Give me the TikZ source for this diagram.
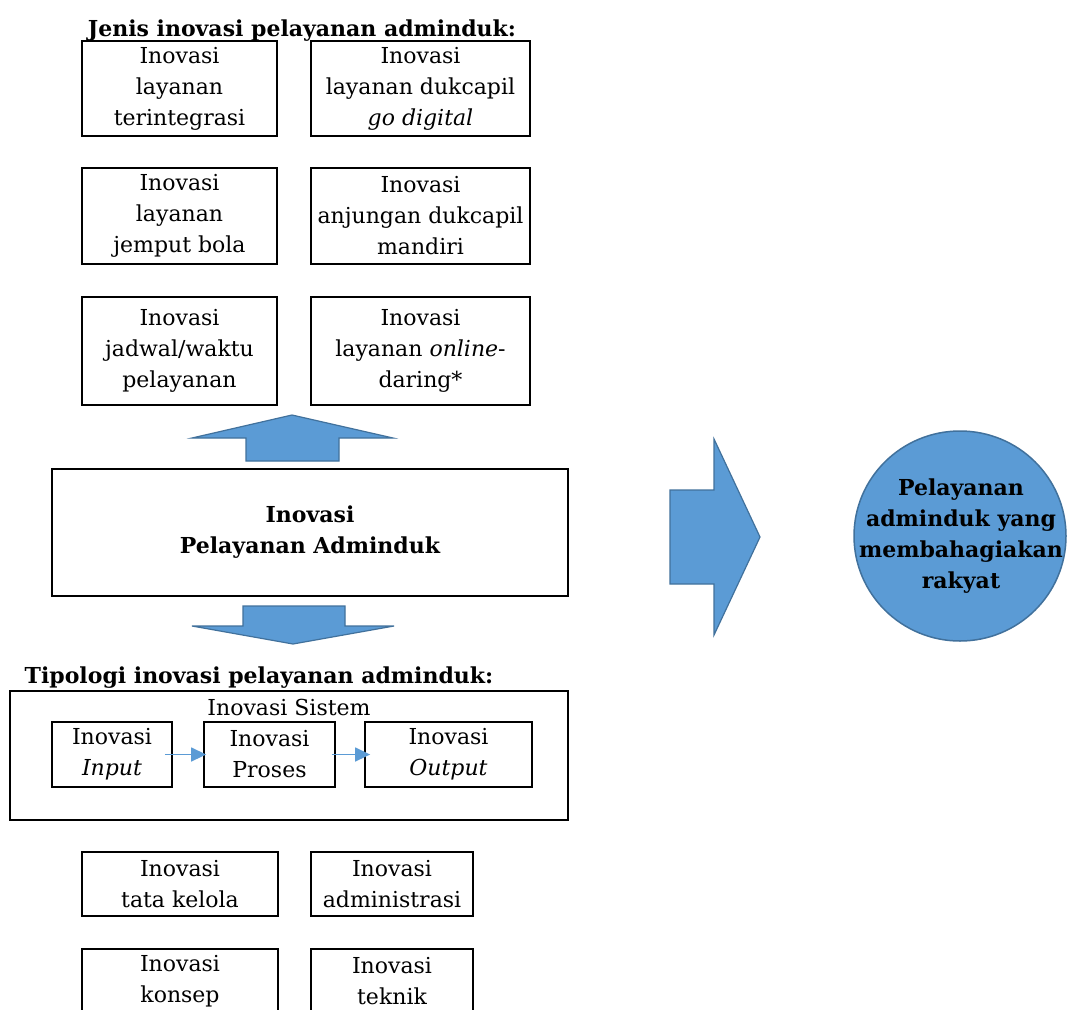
\documentclass[tikz,border=0pt]{standalone}
\usepackage{fontspec}
\setmainfont{DejaVu Serif}
\usetikzlibrary{arrows.meta,shapes.geometric}
\definecolor{blockfill}{HTML}{5B9BD5}
\definecolor{blockline}{HTML}{41719C}
\newcommand\mytxt{\fontsize{22}{31}\selectfont}
\begin{document}
\begin{tikzpicture}[x=1pt,y=-1pt,
  box/.style={draw=black, line width=1.8pt, align=center, inner sep=0pt, font=\mytxt},
  plain/.style={align=center, inner sep=0pt, font=\mytxt},
  boldtxt/.style={align=center, inner sep=0pt, font=\mytxt\bfseries},
  blockarrow/.style={fill=blockfill, draw=blockline, line width=1.2pt, line join=miter},
  flow/.style={draw=blockfill, line width=1.5pt, -{Triangle[length=15pt,width=14pt]}}
]
\clip (0,0) rectangle (1067,1009);
\fill[white] (0,0) rectangle (1067,1009);

% title 1
\node[boldtxt, anchor=base] (title1) at (302,36) {Jenis inovasi pelayanan adminduk:};

% jenis boxes
\node[box, minimum width=195pt, minimum height=95pt] (j1) at (179.5,88.5) {Inovasi\\layanan\\terintegrasi};
\node[box, minimum width=219pt, minimum height=95pt] (j2) at (420.5,88.5) {Inovasi\\layanan dukcapil\\\textit{go digital}};
\node[box, minimum width=195pt, minimum height=96pt] (j3) at (179.5,216) {Inovasi\\layanan\\jemput bola};
\node[box, minimum width=219pt, minimum height=96pt] (j4) at (420.5,216) {Inovasi\\anjungan dukcapil\\mandiri};
\node[box, minimum width=195pt, minimum height=108pt] (j5) at (179.5,351) {Inovasi\\jadwal/waktu\\pelayanan};
\node[box, minimum width=219pt, minimum height=108pt] (j6) at (420.5,351) {Inovasi\\layanan \textit{online}-\\daring*};

% up arrow
\draw[blockarrow] (246,461) -- (246,438) -- (192,438) -- (292,415) -- (393,438) -- (339,438) -- (339,461) -- cycle;

% main box
\node[box, minimum width=516pt, minimum height=127pt, font=\mytxt\bfseries] (main) at (310,532.5) {Inovasi\\Pelayanan Adminduk};

% down arrow
\draw[blockarrow] (243,606) -- (345,606) -- (345,626) -- (394,626) -- (293,644) -- (192,626) -- (243,626) -- cycle;

% right arrow
\draw[blockarrow] (670,490) -- (714,490) -- (714,439) -- (760,537) -- (714,635) -- (714,584) -- (670,584) -- cycle;

% goal circle
\node[ellipse, fill=blockfill, draw=blockline, line width=1.5pt, minimum width=212pt, minimum height=210pt, inner sep=0pt] (goal) at (960,536) {};
\node[boldtxt] (goaltext) at (961,536) {Pelayanan\\adminduk yang\\membahagiakan\\rakyat};

% title 2
\node[boldtxt, anchor=base] (title2) at (259,683) {Tipologi inovasi pelayanan adminduk:};

% sistem box
\node[box, minimum width=558pt, minimum height=129pt] (sys) at (289,755.5) {};
\node[plain] (systitle) at (289,707) {Inovasi Sistem};
\node[box, minimum width=120pt, minimum height=65pt] (inp) at (112,754.5) {Inovasi\\\textit{Input}};
\node[box, minimum width=131pt, minimum height=65pt] (proc) at (269.5,754.5) {Inovasi\\Proses};
\node[box, minimum width=167pt, minimum height=65pt] (outp) at (448.5,754.5) {Inovasi\\\textit{Output}};
\draw[flow] ([xshift=-8pt]inp.east) -- ([xshift=3pt]proc.west);
\draw[flow] ([xshift=-4pt]proc.east) -- ([xshift=6pt]outp.west);

% tipologi boxes
\node[box, minimum width=196pt, minimum height=64pt] (t1) at (180,884) {Inovasi\\tata kelola};
\node[box, minimum width=162pt, minimum height=64pt] (t2) at (392,884) {Inovasi\\administrasi};
\node[box, minimum width=196pt, minimum height=64pt] (t3) at (180,981) {Inovasi\\konsep};
\node[box, minimum width=162pt, minimum height=64pt] (t4) at (392,981) {Inovasi\\teknik};
\end{tikzpicture}
\end{document}
